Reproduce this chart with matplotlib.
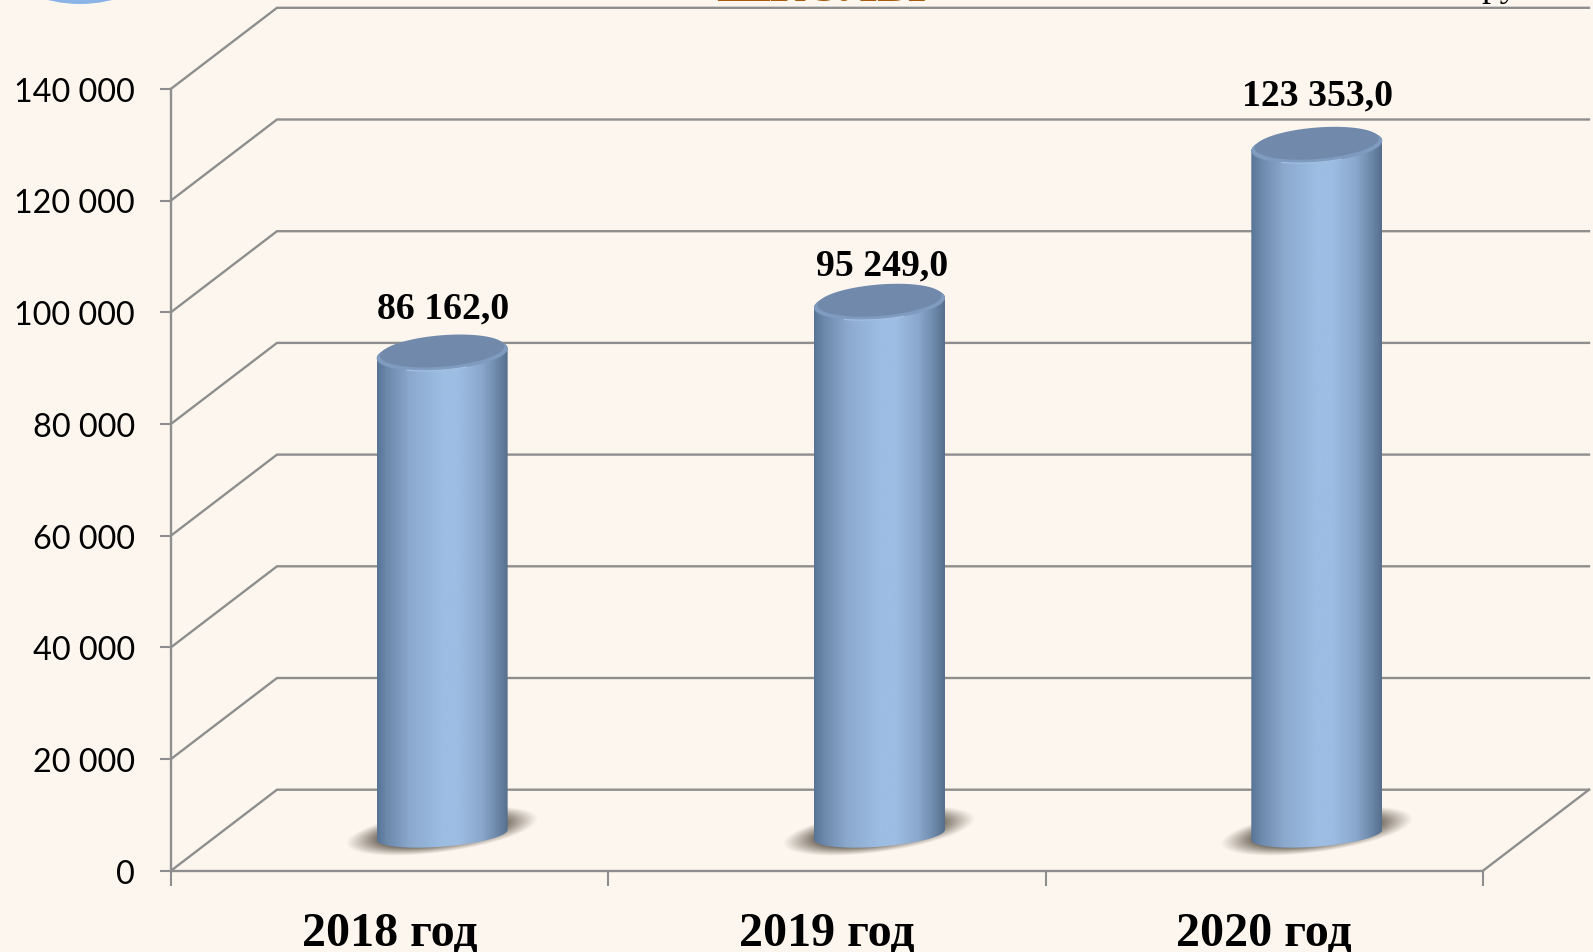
import matplotlib
matplotlib.use('Agg')
import matplotlib.pyplot as plt
from matplotlib.colors import LinearSegmentedColormap, to_rgb
from matplotlib.patches import Circle, PathPatch, Polygon
from matplotlib.path import Path
from matplotlib.transforms import IdentityTransform
import numpy as np

W = 1593
H = 953
BG = '#fdf6ee'
GRID = '#8e8e8e'

years = ['2018 год', '2019 год', '2020 год']
values = [86162.0, 95249.0, 123353.0]
value_labels = ['86 162,0', '95 249,0', '123 353,0']
y_ticks = [0, 20000, 40000, 60000, 80000, 100000, 120000, 140000]
y_tick_labels = ['0', '20 000', '40 000', '60 000', '80 000', '100 000', '120 000', '140 000']

# hand placed label offsets, pixels above the top of the cylinder
label_lift = [46, 38, 51]
label_shift = [1, 3, 1]

AX_L, AX_R = 171, 1483
AX_T, AX_B = 89.8, 871.7
px_x = 3. / (AX_R - AX_L)
px_y = 140000. / (AX_B - AX_T)

depth_x = 106 * px_x
depth_y = 81 * px_y
bar_x = 0.62
bar_half = 65.5 * px_x
bar_base = 36 * px_y
ell_b = 16.6 * px_y
ell_b_low = 12. * px_y
ell_k = 5. * px_y

body_cmap = LinearSegmentedColormap.from_list('body', [
    (0.0, '#587495'), (0.08, '#6d8aad'), (0.25, '#8ba9cd'), (0.5, '#9dbde3'),
    (0.62, '#9dbde3'), (0.8, '#8aa8cc'), (0.93, '#6a85a6'), (1.0, '#566f8e')])


def ellipse_pts(cx, cy, t, scale=1., b=ell_b):
    return np.column_stack([cx + scale * bar_half * np.cos(t),
                            cy + scale * (b * np.sin(t) + ell_k * np.cos(t))])


def draw_shadow(ax, cx):
    nx, ny = 240, 90
    xs = np.linspace(-125, 125, nx)
    ys = np.linspace(-45, 45, ny)
    xx, yy = np.meshgrid(xs, ys)
    d = np.sqrt((xx / 84.) ** 2 + ((yy - 0.13 * xx) / 19.) ** 2)
    alpha = np.clip((1.15 - d) / 0.4, 0, 1) ** 1.1 * 0.85
    rgba = np.zeros((ny, nx, 4))
    rgba[..., :3] = to_rgb('#5d5348')
    rgba[..., 3] = alpha
    sy = bar_base + 4 * px_y
    ax.imshow(rgba, origin='lower', aspect='auto', zorder=3, interpolation='bilinear',
              extent=(cx - 125 * px_x, cx + 125 * px_x, sy - 45 * px_y, sy + 45 * px_y))


def draw_cylinder(ax, cx, val):
    top = bar_base + val
    low = ellipse_pts(cx, bar_base, np.linspace(0, -np.pi, 60), b=ell_b_low)
    up = ellipse_pts(cx, top, np.linspace(np.pi, 0, 60))
    body = np.vstack([low, up, low[:1]])
    clip = PathPatch(Path(body), transform=ax.transData, fc='none', ec='none')
    ax.add_patch(clip)
    im = ax.imshow(np.linspace(0, 1, 256).reshape(1, -1), cmap=body_cmap, aspect='auto', zorder=4,
                   extent=(cx - bar_half, cx + bar_half, bar_base - 30 * px_y, top + 30 * px_y))
    im.set_clip_path(clip)

    t = np.linspace(0, 2 * np.pi, 120)
    ax.add_patch(Polygon(ellipse_pts(cx, top, t), fc='#7f9bbf', ec='none', zorder=5))
    ax.add_patch(Polygon(ellipse_pts(cx, top + 2.5 * px_y, t, 0.95), fc='#718aac', ec='none', zorder=5))
    arc = ellipse_pts(cx, top, np.linspace(-0.38 * np.pi, -0.68 * np.pi, 40))
    ax.plot(arc[:, 0], arc[:, 1], color='#a3c0e3', lw=0.9, zorder=6)


plt.rcParams['font.family'] = ['Lato', 'DejaVu Sans']

fig = plt.figure(figsize=(W / 100., H / 100.), dpi=100, facecolor=BG)
ax = fig.add_axes([AX_L / W, (H - AX_B) / H, (AX_R - AX_L) / W, (AX_B - AX_T) / H])
ax.set_facecolor('none')

# walls and floor
for v in y_ticks:
    ax.plot([0, depth_x, 3 + depth_x], [v, v + depth_y, v + depth_y], color=GRID, lw=1.7,
            clip_on=False, zorder=1, solid_joinstyle='miter')
ax.plot([3, 3 + depth_x], [0, depth_y], color=GRID, lw=1.7, clip_on=False, zorder=1)

for i in range(len(values)):
    draw_shadow(ax, i + bar_x)
for i, val in enumerate(values):
    draw_cylinder(ax, i + bar_x, val)
    ax.annotate(value_labels[i], (i + bar_x, bar_base + val), xycoords='data',
                xytext=(label_shift[i], label_lift[i]), textcoords='offset pixels',
                ha='center', va='center', fontsize=27.2, fontweight='bold',
                family='Liberation Serif', color='black', zorder=7)

ax.set_xlim(0, 3)
ax.set_ylim(0, 140000)
ax.spines['top'].set_visible(False)
ax.spines['right'].set_visible(False)
for s in ['left', 'bottom']:
    ax.spines[s].set_color(GRID)
    ax.spines[s].set_linewidth(1.7)

ax.set_yticks(y_ticks)
ax.set_yticklabels(y_tick_labels, fontsize=23.3, color='black')
ax.tick_params(axis='y', length=8, width=1.5, color=GRID, pad=18)

ax.set_xticks([0, 1, 2, 3])
ax.set_xticklabels([])
ax.set_xticks([0.5, 1.5, 2.5], minor=True)
ax.set_xticklabels(years, minor=True, fontsize=34.6, fontweight='bold', family='Liberation Serif')
ax.tick_params(axis='x', which='major', length=10.5, width=1.5, color=GRID)
ax.tick_params(axis='x', which='minor', length=0, pad=29)

# slide furniture cut off by the top edge of the crop
fig.add_artist(Circle((80, H + 127), 132, transform=IdentityTransform(), fc='#8ab4e8', ec='none'))
fig.text(821 / W, 1 - 1. / H, 'ШКОЛЫ', ha='center', va='baseline', fontsize=35.5, fontweight='bold',
         family='Liberation Serif', color='#a85c10')
fig.text(1545 / W, 1 + 4. / H, 'тыс. руб.', ha='right', va='baseline', fontsize=26,
         family='Liberation Serif', color='black')

fig.savefig('out.png', dpi=100, facecolor=BG)
